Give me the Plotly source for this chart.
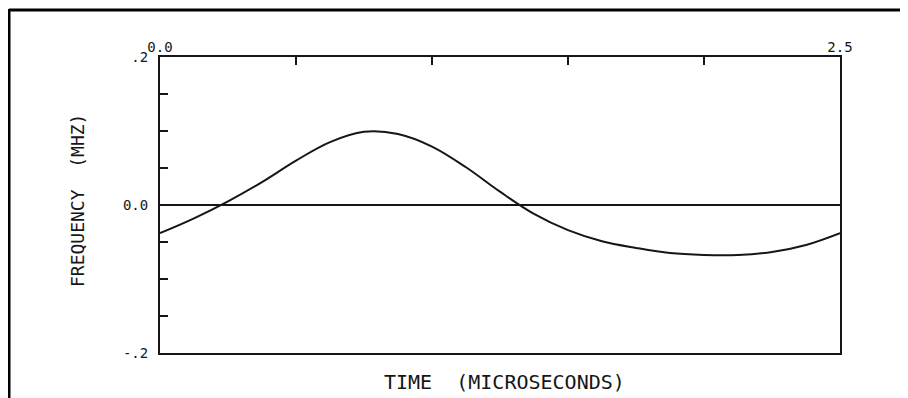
import plotly.graph_objects as go

# ---- data ----
time_us = [0.0, 0.125, 0.25, 0.375, 0.5, 0.625, 0.75, 0.875, 1.0, 1.125, 1.25,
           1.375, 1.5, 1.625, 1.75, 1.875, 2.0, 2.125, 2.25, 2.375, 2.5]
freq_mhz = [-0.038, -0.018, 0.005, 0.031, 0.060, 0.085, 0.099, 0.096, 0.079, 0.051, 0.018,
            -0.012, -0.034, -0.049, -0.058, -0.065, -0.0675, -0.0675, -0.0635, -0.054, -0.038]

x_tickvals = [0.0, 0.5, 1.0, 1.5, 2.0, 2.5]
x_ticktext = ["0.0", "", "", "", "", "2.5"]
y_tickvals = [-0.2, -0.15, -0.1, -0.05, 0.0, 0.05, 0.1, 0.15, 0.2]
y_ticktext = ["-.2", "", "", "", "0.0", "", "", "", ".2"]

x_title = "TIME\u00a0\u00a0(MICROSECONDS)"
y_title = "FREQUENCY\u00a0\u00a0(MHZ)"

# ---- layout geometry (page body has an 8px margin) ----
OFF = 8
W, H = 908 - OFF, 398 - OFF
L, R, T, B = 160 - OFF, 68, 57 - OFF, 45
PW, PH = W - L - R, H - T - B

def px_to_paper_x(px):
    return (px - OFF - L) / PW

def px_to_paper_y(py):
    return (T + PH - (py - OFF)) / PH

FONT = "DejaVu Sans Mono"
INK = "#161616"

fig = go.Figure()
fig.add_trace(go.Scatter(
    x=time_us, y=freq_mhz, mode="lines",
    line=dict(color=INK, width=2, shape="spline", smoothing=1.0),
    hoverinfo="skip", showlegend=False,
))

fig.update_layout(
    width=W, height=H,
    margin=dict(l=L, r=R, t=T, b=B, pad=0),
    paper_bgcolor="white", plot_bgcolor="white",
    font=dict(family=FONT, color=INK),
    showlegend=False,
    xaxis=dict(
        range=[0, 2.5], side="top",
        tickvals=x_tickvals, ticktext=x_ticktext,
        ticks="inside", ticklen=8, tickwidth=1.5, tickcolor=INK,
        showline=True, linewidth=2, linecolor=INK, mirror=True,
        showgrid=False, zeroline=False,
        tickfont=dict(size=14, family=FONT, color=INK),
        ticklabelstandoff=-3,
    ),
    yaxis=dict(
        range=[-0.2, 0.2],
        tickvals=y_tickvals, ticktext=y_ticktext,
        ticks="inside", ticklen=8, tickwidth=1.5, tickcolor=INK,
        showline=True, linewidth=2, linecolor=INK, mirror=True,
        showgrid=False,
        zeroline=True, zerolinecolor=INK, zerolinewidth=1.5,
        tickfont=dict(size=14, family=FONT, color=INK),
        ticklabelstandoff=7,
    ),
    annotations=[
        dict(text=x_title, xref="paper", yref="paper",
             x=px_to_paper_x(504), y=px_to_paper_y(382),
             xanchor="center", yanchor="middle", showarrow=False,
             font=dict(size=20, family=FONT, color=INK)),
        dict(text=y_title, xref="paper", yref="paper",
             x=px_to_paper_x(77), y=px_to_paper_y(201),
             xanchor="center", yanchor="middle", showarrow=False, textangle=-90,
             font=dict(size=18, family=FONT, color=INK)),
    ],
    shapes=[
        # scanned page frame: top and left edges
        dict(type="line", xref="paper", yref="paper",
             x0=px_to_paper_x(9), x1=px_to_paper_x(912),
             y0=px_to_paper_y(10), y1=px_to_paper_y(10),
             line=dict(color="black", width=3)),
        dict(type="line", xref="paper", yref="paper",
             x0=px_to_paper_x(9), x1=px_to_paper_x(9),
             y0=px_to_paper_y(9), y1=px_to_paper_y(402),
             line=dict(color="black", width=3)),
    ],
)

fig.write_html("out.html")
